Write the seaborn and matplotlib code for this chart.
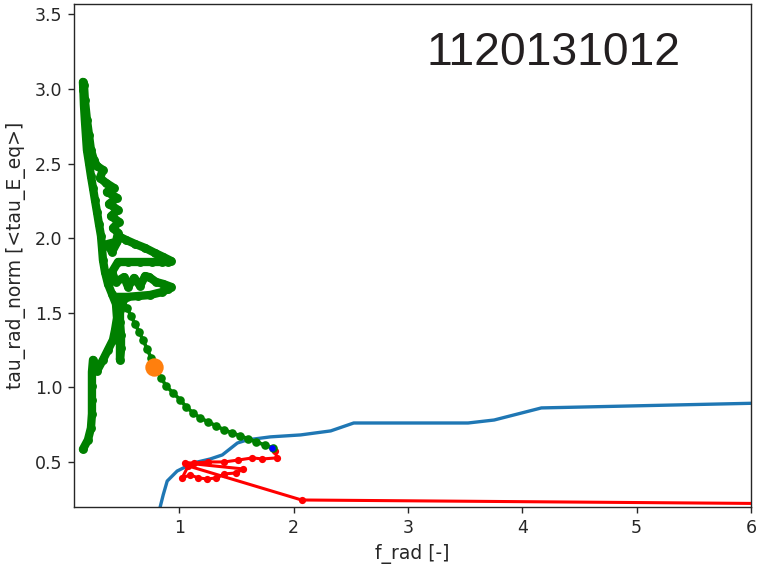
import matplotlib
matplotlib.use("Agg")
import matplotlib.pyplot as plt
import seaborn as sns

# Shot identifier shown in the corner
shot_label = "1120131012"

# Radiation trajectory of the discharge (green, time ordered).
# The first DIAG_N samples form the slow ramp-down branch; the rest is the
# densely sampled high-tau_rad phase.
DIAG_N = 25
green_x = [
    1.816, 1.746, 1.675, 1.605, 1.535, 1.465, 1.395, 1.325, 1.254, 1.184,
    1.123, 1.061, 1.009, 0.947, 0.886, 0.842, 0.789, 0.754, 0.719, 0.684,
    0.649, 0.614, 0.579, 0.544, 0.509,
    0.482, 0.482, 0.491, 0.491, 0.482, 0.482, 0.474, 0.465,
    0.439, 0.544, 0.640, 0.746, 0.851, 0.904, 0.930, 0.860, 0.798, 0.737,
    0.702, 0.658, 0.605, 0.553, 0.518, 0.447, 0.412,
    0.465, 0.553, 0.658, 0.763, 0.851, 0.904, 0.930, 0.860, 0.789, 0.702,
    0.614, 0.535, 0.482,
    0.412, 0.377, 0.447, 0.465, 0.421, 0.474, 0.404, 0.465, 0.386, 0.456,
    0.368, 0.430,
    0.360, 0.307, 0.333, 0.281, 0.254, 0.228, 0.211, 0.193, 0.175, 0.167,
    0.158,
    0.162, 0.167, 0.175, 0.184, 0.193, 0.211, 0.228, 0.246, 0.263, 0.281,
    0.298, 0.316, 0.325, 0.333, 0.351, 0.377, 0.412, 0.447, 0.456, 0.439,
    0.421, 0.377, 0.333, 0.281, 0.246, 0.237, 0.237, 0.237, 0.237, 0.228,
    0.202, 0.158,
]
green_y = [
    0.594, 0.614, 0.634, 0.654, 0.674, 0.694, 0.714, 0.741, 0.768, 0.795,
    0.828, 0.869, 0.916, 0.962, 1.009, 1.063, 1.130, 1.197, 1.257, 1.318,
    1.371, 1.425, 1.478, 1.532, 1.586,
    1.519, 1.438, 1.352, 1.265, 1.184, 1.318, 1.438, 1.552,
    1.606, 1.606, 1.612, 1.619, 1.639, 1.659, 1.673, 1.693, 1.706, 1.739,
    1.746, 1.680, 1.733, 1.673, 1.739, 1.706, 1.773,
    1.840, 1.840, 1.840, 1.840, 1.840, 1.840, 1.847, 1.874, 1.900, 1.934,
    1.961, 1.988, 2.008,
    1.907, 1.961, 1.975, 2.035, 2.068, 2.108, 2.148, 2.189, 2.229, 2.270,
    2.310, 2.336,
    2.370, 2.403, 2.457, 2.483, 2.524, 2.591, 2.691, 2.792, 2.926, 3.026,
    3.047,
    2.993, 2.892, 2.792, 2.691, 2.591, 2.503, 2.417, 2.336, 2.256, 2.175,
    2.095, 2.015, 1.934, 1.854, 1.773, 1.693, 1.626, 1.559, 1.465, 1.385,
    1.318, 1.251, 1.184, 1.110, 1.184, 1.103, 1.009, 0.916, 0.822, 0.727,
    0.648, 0.585,
]

# Second trajectory (red)
red_x = [1.842, 1.851, 1.728, 1.640, 1.518, 1.395, 1.254, 1.132, 1.053, 1.561,
         1.500, 1.395, 1.325, 1.246, 1.167, 1.096, 1.026, 1.079, 2.070, 6.000]
red_y = [0.574, 0.527, 0.520, 0.527, 0.513, 0.500, 0.500, 0.493, 0.493, 0.453,
         0.426, 0.420, 0.393, 0.386, 0.393, 0.413, 0.393, 0.473, 0.245, 0.222]

# Reference boundary curve (blue)
blue_x = [0.816, 0.860, 0.895, 0.982, 1.123, 1.272, 1.377, 1.509, 1.596, 1.798,
          2.061, 2.325, 2.526, 3.526, 3.754, 4.167, 6.000]
blue_y = [0.145, 0.279, 0.372, 0.439, 0.493, 0.520, 0.547, 0.627, 0.648, 0.668,
          0.681, 0.708, 0.761, 0.761, 0.781, 0.862, 0.893]

# Highlighted time slice and start point
mark_x, mark_y = [0.781], [1.137]
start_x, start_y = [1.813], [0.592]

x_ticks = [1, 2, 3, 4, 5, 6]
y_ticks = [0.5, 1.0, 1.5, 2.0, 2.5, 3.0, 3.5]

sns.set_style("ticks")
plt.rcParams["font.family"] = ["DejaVu Sans"]
plt.rcParams["text.color"] = "#262626"
plt.rcParams["axes.labelcolor"] = "#262626"
plt.rcParams["xtick.color"] = "#262626"
plt.rcParams["ytick.color"] = "#262626"

W, H = 758, 567
fig = plt.figure(figsize=(W / 100, H / 100), dpi=100)
ax = fig.add_axes([74 / W, 1 - 507 / H, (751 - 74) / W, (507 - 4) / H])

sns.lineplot(x=blue_x, y=blue_y, sort=False, estimator=None, color="#1f77b4",
             linewidth=2.4, ax=ax, zorder=2)
sns.lineplot(x=red_x, y=red_y, sort=False, estimator=None, color="red",
             linewidth=2.2, marker="o", markersize=5.2, markeredgewidth=0,
             markevery=list(range(len(red_x) - 1)), ax=ax, zorder=3)

# ramp-down branch: separate samples
sns.lineplot(x=green_x[:DIAG_N], y=green_y[:DIAG_N], sort=False, estimator=None,
             color="green", linewidth=2.6, marker="o", markersize=6.2,
             markeredgewidth=0, ax=ax, zorder=4)
# dense phase: samples overlap into solid bands
sns.lineplot(x=green_x[DIAG_N - 1:], y=green_y[DIAG_N - 1:], sort=False,
             estimator=None, color="green", linewidth=6.0, marker="o",
             markersize=6.4, markeredgewidth=0, solid_capstyle="round",
             solid_joinstyle="round", ax=ax, zorder=4)

sns.scatterplot(x=mark_x, y=mark_y, s=175, color="#ff7f0e", linewidth=0,
                ax=ax, zorder=5)
sns.scatterplot(x=start_x, y=start_y, s=22, color="blue", linewidth=0,
                ax=ax, zorder=6)

ax.set_xlim(0.08, 6.0)
ax.set_ylim(0.198, 3.569)
ax.set_xticks(x_ticks)
ax.set_xticklabels([str(t) for t in x_ticks])
ax.set_yticks(y_ticks)
ax.set_yticklabels([f"{t:.1f}" for t in y_ticks])
ax.tick_params(axis="both", labelsize=12.5, length=4.5, width=1.0, pad=4)
for s in ax.spines.values():
    s.set_linewidth(1.0)
    s.set_color("#262626")

ax.set_xlabel("f_rad [-]", fontsize=13.5, labelpad=5)
ax.set_ylabel("tau_rad_norm [<tau_E_eq>]", fontsize=13.5, labelpad=6)

fig.text(553.5 / W, 1 - 65 / H, shot_label, fontsize=33.3,
         family=["Liberation Sans", "DejaVu Sans"], ha="center", va="baseline",
         color="#231f20")

fig.savefig("out.png", dpi=100)
